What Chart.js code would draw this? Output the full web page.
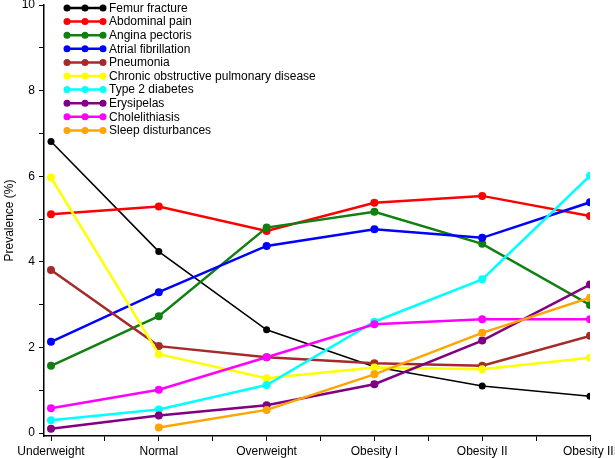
<!DOCTYPE html>
<html>
<head>
<meta charset="utf-8">
<script src="https://cdn.jsdelivr.net/npm/chart.js@4/dist/chart.umd.min.js"></script>
<style>
  html, body { margin: 0; padding: 0; background: #fff; }
  #wrap { width: 615px; height: 458px; }
</style>
</head>
<body>
<div id="wrap"><canvas id="chart-one"></canvas></div>
<script>
// categories on the x axis
const groups = ["Underweight", "Normal", "Overweight", "Obesity I", "Obesity II", "Obesity III"];

// prevalence (%) per group
const femurFracture = [6.81, 4.24, 2.41, 1.55, 1.10, 0.86];
const abdominalPain = [5.11, 5.29, 4.72, 5.38, 5.54, 5.07];
const anginaPectoris = [1.57, 2.73, 4.80, 5.17, 4.42, 2.99];
const atrialFib = [2.13, 3.29, 4.37, 4.76, 4.56, 5.39];
const pneumonia = [3.81, 2.03, 1.77, 1.63, 1.57, 2.27];
const copd = [5.97, 1.84, 1.28, 1.53, 1.49, 1.76];
const diabetes2 = [0.30, 0.55, 1.12, 2.60, 3.59, 6.01];
const erysipelas = [0.10, 0.41, 0.65, 1.14, 2.16, 3.47];
const cholelithiasis = [0.58, 1.01, 1.77, 2.54, 2.66, 2.66];
const sleepDisturb = [null, 0.13, 0.54, 1.37, 2.34, 3.16];

const names = ["Femur fracture", "Abdominal pain", "Angina pectoris", "Atrial fibrillation", "Pneumonia",
  "Chronic obstructive pulmonary disease", "Type 2 diabetes", "Erysipelas", "Cholelithiasis", "Sleep disturbances"];
const series = [femurFracture, abdominalPain, anginaPectoris, atrialFib, pneumonia,
  copd, diabetes2, erysipelas, cholelithiasis, sleepDisturb];
const colors = ["#000000", "#ff0000", "#108010", "#0000ff", "#a52a2a",
  "#ffff00", "#00ffff", "#800080", "#ff00ff", "#ffa500"];

const yTicks = [0, 2, 4, 6, 8, 10];

const FONT = "'Liberation Sans', Arial, sans-serif";

// legend drawn inside the plot, one row per disease
const boxLegend = {
  id: "boxLegend",
  afterDraw(chart) {
    const c = chart.ctx;
    const a = chart.chartArea;
    c.save();
    c.font = "12px " + FONT;
    c.textBaseline = "middle";
    names.forEach((n, i) => {
      const y = a.top + 3 + i * 13.6;
      const x0 = a.left + 23, x1 = a.left + 59;
      c.strokeStyle = colors[i];
      c.fillStyle = colors[i];
      c.lineWidth = 2.5;
      c.beginPath();
      c.moveTo(x0, y); c.lineTo(x1, y);
      c.stroke();
      [x0, (x0 + x1) / 2, x1].forEach(px => {
        c.beginPath();
        c.arc(px, y, 3.5, 0, Math.PI * 2);
        c.fill();
      });
      c.fillStyle = "#000";
      c.fillText(n, a.left + 65, y + 0.5);
    });
    c.restore();
  }
};

const ctx = document.getElementById("chart-one").getContext("2d");

new Chart(ctx, {
  type: "line",
  data: {
    datasets: series.map((s, i) => ({
      label: names[i],
      data: s.map((v, j) => ({ x: j, y: v })),
      borderColor: colors[i],
      backgroundColor: colors[i],
      borderWidth: i === 0 ? 1.6 : 2.5,
      pointRadius: i === 0 ? 3.5 : 4,
      pointBorderWidth: 0,
      tension: 0,
      spanGaps: false,
      order: 10 - i
    }))
  },
  options: {
    responsive: true,
    maintainAspectRatio: false,
    animation: false,
    layout: { padding: { top: 5, right: 25, left: 0, bottom: 0 } },
    plugins: {
      legend: { display: false },
      tooltip: { enabled: false }
    },
    scales: {
      x: {
        type: "linear",
        min: -0.065,
        max: 5,
        border: { color: "#000", width: 1.5 },
        grid: { drawOnChartArea: false, color: "#000", tickLength: 5, lineWidth: 1 },
        ticks: {
          stepSize: 0.5,
          includeBounds: false,
          autoSkip: false,
          maxRotation: 0,
          padding: 3,
          color: "#000",
          font: { family: FONT, size: 12 },
          callback: v => Number.isInteger(v) ? groups[v] : ""
        },
        afterFit(scale) {
          scale.height = 22;
          scale.paddingLeft = 0;
          scale.paddingRight = 0;
        }
      },
      y: {
        min: -0.07,
        max: 10,
        border: { color: "#000", width: 1.5 },
        grid: { drawOnChartArea: false, color: "#000", tickLength: 5, lineWidth: 1 },
        title: {
          display: true,
          text: "Prevalence (%)",
          color: "#000",
          font: { family: FONT, size: 12 },
          padding: { top: 2, bottom: 0 }
        },
        ticks: {
          stepSize: 1,
          includeBounds: false,
          padding: 4,
          color: "#000",
          font: { family: FONT, size: 12 },
          callback: v => yTicks.includes(v) ? String(v) : ""
        },
        afterFit(scale) {
          scale.width = 44;
          scale.paddingTop = 0;
          scale.paddingBottom = 0;
        }
      }
    }
  },
  plugins: [boxLegend]
});
</script>
</body>
</html>
